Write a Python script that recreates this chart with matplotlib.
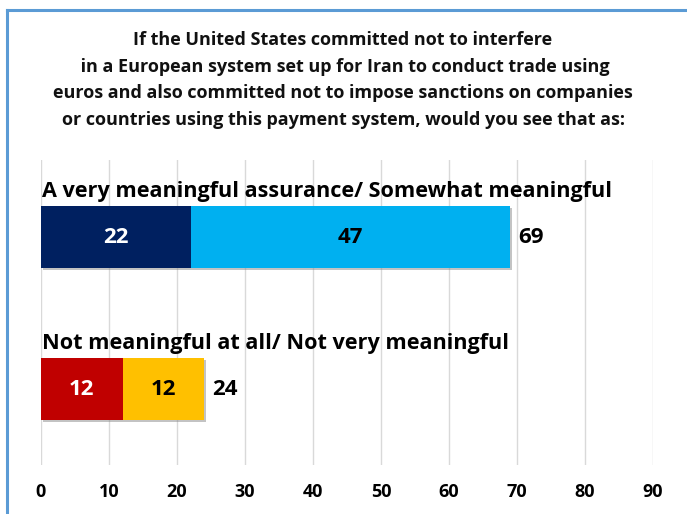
import numpy as np
import matplotlib
matplotlib.use("Agg")
import matplotlib.pyplot as plt
from matplotlib import patheffects as pe
from matplotlib.lines import Line2D

title = ("If the United States committed not to interfere\n"
         " in a European system set up for Iran to conduct trade using\n"
         "euros and also committed not to impose sanctions on companies\n"
         "or countries using this payment system, would you see that as:")

groups = ["A very meaningful assurance/ Somewhat meaningful",
          "Not meaningful at all/ Not very meaningful"]
strong = [22, 12]
weak = [47, 12]
totals = [69, 24]
strong_colors = ["#002060", "#C00000"]
weak_colors = ["#00B0F0", "#FFC000"]
strong_text = ["white", "white"]
weak_text = ["black", "black"]
xticks = [0, 10, 20, 30, 40, 50, 60, 70, 80, 90]

W, H = 687, 514
fig = plt.figure(figsize=(W / 100, H / 100), dpi=100)
font = "Open Sans"

# frame like the original slide box
fig.add_artist(Line2D([7 / W, 7 / W], [0, 1 - 10 / H], color="#5B9BD5", lw=2.2))
fig.add_artist(Line2D([7 / W, 1], [1 - 10 / H, 1 - 10 / H], color="#5B9BD5", lw=2.2))

fig.text(343 / W, 1 - 80 / H, title, ha="center", va="center", fontsize=13.0,
         fontweight="bold", family=font, linespacing=1.6, color="#111111")

ax = fig.add_axes([41 / W, 1 - 465 / H, 612 / W, 305 / H])
ypos = [1, 0]
h = 0.41
shadow = [pe.SimplePatchShadow(offset=(1.5, -1.5), shadow_rgbFace="#888888", alpha=0.5), pe.Normal()]
for i in range(2):
    b1 = ax.barh(ypos[i], strong[i], height=h, color=strong_colors[i], zorder=3)
    b2 = ax.barh(ypos[i], weak[i], left=strong[i], height=h, color=weak_colors[i], zorder=3)
    for b in list(b1) + list(b2):
        b.set_path_effects(shadow)
    ax.text(strong[i] / 2, ypos[i], str(strong[i]), ha="center", va="center",
            color=strong_text[i], fontsize=16, fontweight="bold", family=font, zorder=4)
    ax.text(strong[i] + weak[i] / 2, ypos[i], str(weak[i]), ha="center", va="center",
            color=weak_text[i], fontsize=16, fontweight="bold", family=font, zorder=4)
    ax.text(totals[i] + 1.2, ypos[i], str(totals[i]), ha="left", va="center",
            color="black", fontsize=16, fontweight="bold", family=font, zorder=4)
    ax.text(0.1, ypos[i] + h / 2 + 0.025, groups[i], ha="left", va="bottom",
            color="black", fontsize=15.6, fontweight="bold", family=font, zorder=4)

ax.set_xlim(0, 90)
ax.set_ylim(-0.5, 1.507)
ax.set_xticks(xticks)
ax.set_yticks([])
ax.grid(axis="x", color="#D9D9D9", lw=1, zorder=0)
for s in ax.spines.values():
    s.set_visible(False)
ax.tick_params(axis="x", length=0, pad=13)
for lbl in ax.get_xticklabels():
    lbl.set_fontweight("bold")
    lbl.set_fontsize(13)
    lbl.set_family(font)

fig.savefig("out.png", dpi=100)
